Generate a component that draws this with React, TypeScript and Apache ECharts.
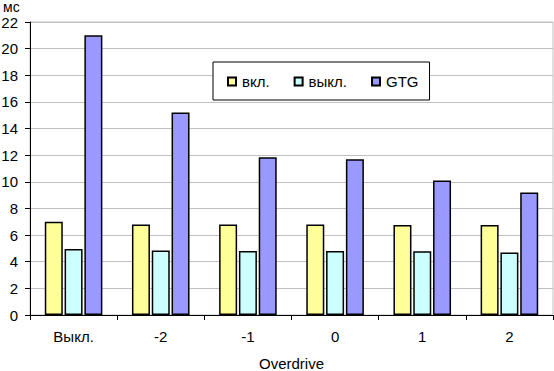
import React, { useEffect, useRef } from "react";
import * as echarts from "echarts";

const categories = ["Выкл.", "-2", "-1", "0", "1", "2"];
const seriesNames = ["вкл.", "выкл.", "GTG"];
const onValues = [7.0, 6.8, 6.8, 6.8, 6.75, 6.75];
const offValues = [4.95, 4.85, 4.8, 4.8, 4.78, 4.7];
const gtgValues = [21.0, 15.2, 11.85, 11.7, 10.1, 9.2];
const colors = ["#FFFF99", "#CCFFFF", "#9999FF"];
const yUnit = "мс";
const xTitle = "Overdrive";

const FONT = "'Liberation Sans', Arial, sans-serif";

export default function App() {
  const ref = useRef<HTMLDivElement>(null);
  useEffect(() => {
    if (!ref.current) return;
    const chart = echarts.init(ref.current, undefined, { renderer: "svg" });
    const data = [onValues, offValues, gtgValues];
    chart.setOption({
      animation: false,
      backgroundColor: "#ffffff",
      textStyle: { fontFamily: FONT },
      grid: {
        left: 30,
        right: 1,
        top: 22,
        bottom: 56,
        containLabel: false,
        outerBoundsMode: "none",
        show: true,
        borderColor: "#c0c0c0",
        borderWidth: 1,
      },
      legend: {
        show: true,
        left: 213,
        top: 62,
        orient: "horizontal",
        itemWidth: 8,
        itemHeight: 8,
        itemGap: 24,
        icon: "rect",
        padding: [12, 11, 11, 14],
        borderColor: "#000",
        borderWidth: 1,
        backgroundColor: "#fff",
        textStyle: { fontFamily: FONT, fontSize: 15, color: "#000", padding: [0, 0, 0, 1] },
        data: seriesNames,
      },
      graphic: [
        {
          type: "text",
          left: 3,
          top: 0,
          style: { text: yUnit, fontFamily: FONT, fontSize: 14, fill: "#000" },
        },
      ],
      xAxis: {
        type: "category",
        data: categories,
        boundaryGap: true,
        name: xTitle,
        nameLocation: "middle",
        nameGap: 41,
        nameTextStyle: { fontFamily: FONT, fontSize: 15, color: "#000" },
        axisLine: { lineStyle: { color: "#000", width: 1 } },
        axisTick: { show: true, length: 5, alignWithLabel: false, lineStyle: { color: "#000" } },
        axisLabel: { fontFamily: FONT, fontSize: 15, color: "#000", margin: 14 },
        splitLine: { show: false },
      },
      yAxis: {
        type: "value",
        min: 0,
        max: 22,
        interval: 2,
        axisLine: { show: true, lineStyle: { color: "#000", width: 1 } },
        axisTick: { show: true, length: 5, lineStyle: { color: "#000" } },
        axisLabel: { fontFamily: FONT, fontSize: 15, color: "#000", margin: 12 },
        splitLine: { show: true, lineStyle: { color: "#c0c0c0", width: 1 } },
      },
      series: seriesNames.map((name, i) => ({
        name,
        type: "bar",
        data: data[i],
        barWidth: 18,
        barGap: "10%",
        itemStyle: { color: colors[i], borderColor: "#000", borderWidth: 1.5 },
      })),
    });
    return () => chart.dispose();
  }, []);
  return (
    <div
      ref={ref}
      style={{ position: "absolute", left: 0, top: 0, width: 554, height: 371 }}
    />
  );
}
